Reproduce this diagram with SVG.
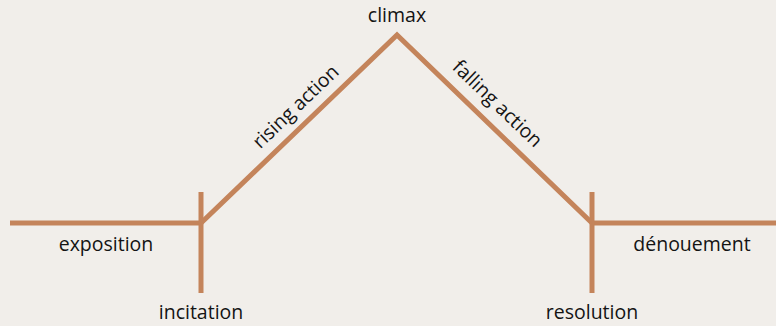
<svg xmlns="http://www.w3.org/2000/svg" width="776" height="326" viewBox="0 0 776 326">
<style>
.ln{fill:none;stroke:#c4845b;stroke-width:5;stroke-linecap:butt;stroke-linejoin:miter}
.lb{font-family:"Open Sans","Noto Sans","Liberation Sans",sans-serif;font-size:19.5px;fill:#141414;text-anchor:middle}
</style>
<rect width="776" height="326" fill="#f1eeea"/>
<g id="connectors">
<path class="ln" d="M10 223 H201 L397 35 L592 223 H776"/>
<path class="ln" d="M201 192 V293"/>
<path class="ln" d="M592 192 V293"/>
</g>
<g id="exposition"><text class="lb" x="106" y="251">exposition</text></g>
<g id="incitation"><text class="lb" x="201" y="319">incitation</text></g>
<g id="climax"><text class="lb" x="397" y="22">climax</text></g>
<g id="rising-action"><text class="lb" transform="translate(296,107) rotate(-43.8)" y="6">rising action</text></g>
<g id="falling-action"><text class="lb" transform="translate(497,104) rotate(43.8)" y="6">falling action</text></g>
<g id="resolution"><text class="lb" x="592" y="319">resolution</text></g>
<g id="denouement"><text class="lb" x="692" y="251">dénouement</text></g>
</svg>
